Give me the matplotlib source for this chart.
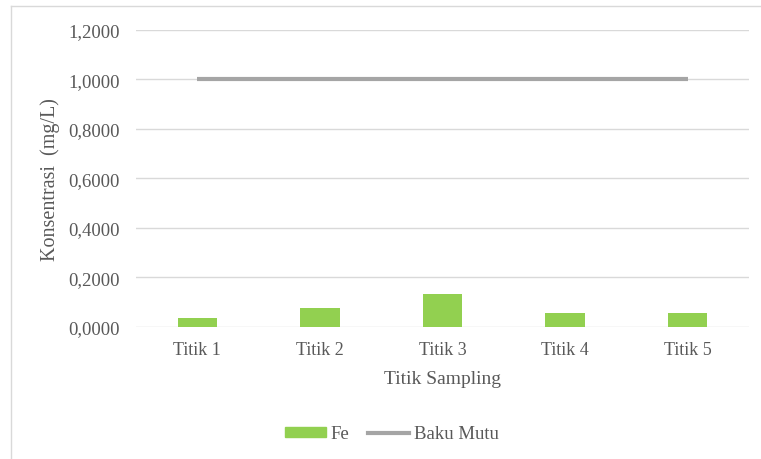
import matplotlib.pyplot as plt
from matplotlib.lines import Line2D
from matplotlib.patches import Patch

# Fe concentration per sampling point vs. the quality standard
titik = ['Titik 1', 'Titik 2', 'Titik 3', 'Titik 4', 'Titik 5']
fe = [0.035, 0.075, 0.134, 0.058, 0.058]
baku_mutu = [1.0, 1.0, 1.0, 1.0, 1.0]
yticks = [0.0, 0.2, 0.4, 0.6, 0.8, 1.0, 1.2]

plt.rcParams['font.family'] = ['Liberation Serif', 'DejaVu Serif']
txt = '#595959'
green = '#92d050'
grey = '#a5a5a5'

W, H = 761, 460
fig = plt.figure(figsize=(W / 100, H / 100), dpi=100)

# outer chart frame (left and top edges visible)
fig.add_artist(Line2D([11 / W, 11 / W], [0, 1 - 7 / H], color='#d9d9d9', lw=1))
fig.add_artist(Line2D([11 / W, 1], [1 - 7 / H, 1 - 7 / H], color='#d9d9d9', lw=1))

ax = fig.add_axes([136 / W, 1 - 328 / H, 613 / W, (328 - 30.7) / H])
x = list(range(len(titik)))
ax.bar(x, fe, width=0.32, color=green, zorder=2)
ax.plot(x, baku_mutu, color=grey, lw=3, solid_capstyle='butt', zorder=3)

ax.set_xlim(-0.5, len(titik) - 0.5)
ax.set_ylim(0, 1.2)
ax.set_yticks(yticks)
ax.set_yticklabels([f'{v:.4f}'.replace('.', ',') for v in yticks])
ax.set_xticks(x)
ax.set_xticklabels(titik)
ax.grid(axis='y', color='#d9d9d9', lw=1, zorder=0)
for s in ax.spines.values():
    s.set_visible(False)
ax.tick_params(length=0, labelcolor=txt)
ax.tick_params(axis='y', labelsize=13.5, pad=11.5)
ax.tick_params(axis='x', labelsize=13, pad=10)

ax.set_xlabel('Titik Sampling', fontsize=14, color=txt, labelpad=9)
ax.set_ylabel('Konsentrasi  (mg/L)', fontsize=14.5, color=txt, labelpad=6)

handles = [Patch(color=green), Line2D([], [], color=grey, lw=3)]
fig.legend(handles, ['Fe', 'Baku Mutu'], loc='center', bbox_to_anchor=(392 / W, 1 - 435 / H),
           ncol=2, frameon=False, fontsize=13.5, labelcolor=txt, handlelength=2.15,
           handleheight=0.4, handletextpad=0.27, columnspacing=1.0)

plt.savefig('out.png', dpi=100)
